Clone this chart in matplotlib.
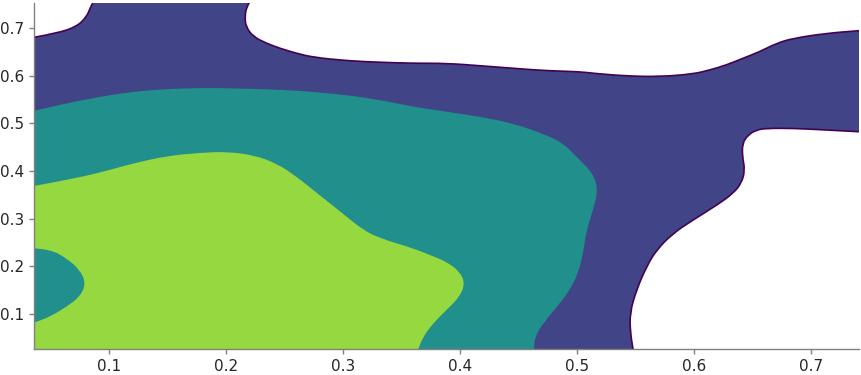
import matplotlib
matplotlib.use("Agg")
import matplotlib.pyplot as plt
from matplotlib.path import Path
from matplotlib.patches import PathPatch

# ── Contour boundaries (data coordinates) ────────────────────────────────────
# outer level: top-left edge curve (left edge -> top)
outer_tl_x = [0.0359, 0.0553, 0.0724, 0.0809, 0.0838, 0.0861]
outer_tl_y = [0.6805, 0.6889, 0.7028, 0.7237, 0.7413, 0.7525]

# outer level: upper edge (top -> right edge)
outer_top_x = [0.2199, 0.2177, 0.2162, 0.2171, 0.2233, 0.2348, 0.2462, 0.2604,
               0.2746, 0.3032, 0.3316, 0.3601, 0.3886, 0.4171, 0.4456, 0.4741,
               0.5026, 0.5139, 0.5425, 0.5709, 0.5994, 0.6137, 0.6279, 0.6421,
               0.6564, 0.6707, 0.6849, 0.7134, 0.7413]
outer_top_y = [0.7525, 0.7447, 0.7237, 0.7028, 0.6818, 0.6679, 0.6574, 0.6469,
               0.6386, 0.6314, 0.6281, 0.6260, 0.6260, 0.6209, 0.6155, 0.6104,
               0.6084, 0.6050, 0.5993, 0.5979, 0.6035, 0.6119, 0.6224, 0.6365,
               0.6503, 0.6679, 0.6784, 0.6889, 0.6944]

# outer level: lower-right edge (right edge -> bottom)
outer_br_x = [0.7413, 0.7134, 0.6849, 0.6621, 0.6536, 0.6464, 0.6416, 0.6416,
              0.6438, 0.6408, 0.6336, 0.6222, 0.5994, 0.5823, 0.5681, 0.5596,
              0.5510, 0.5453, 0.5459, 0.5481]
outer_br_y = [0.4825, 0.4861, 0.4896, 0.4896, 0.4861, 0.4756, 0.4582, 0.4300,
              0.4021, 0.3742, 0.3533, 0.3323, 0.2973, 0.2694, 0.2343, 0.1993,
              0.1504, 0.1015, 0.0596, 0.0260]

# middle level: edge from left edge -> bottom
mid_x = [0.0359, 0.0638, 0.0923, 0.1208, 0.1493, 0.1778, 0.2062, 0.2348,
         0.2632, 0.3032, 0.3316, 0.3601, 0.3886, 0.4171, 0.4456, 0.4741,
         0.4883, 0.4997, 0.5139, 0.5182, 0.5139, 0.5083, 0.5054, 0.5011,
         0.4940, 0.4855, 0.4712, 0.4641, 0.4635]
mid_y = [0.5265, 0.5421, 0.5559, 0.5664, 0.5721, 0.5742, 0.5735, 0.5714,
         0.5685, 0.5595, 0.5490, 0.5349, 0.5244, 0.5139, 0.5001, 0.4756,
         0.4582, 0.4300, 0.3952, 0.3602, 0.3182, 0.2763, 0.2274, 0.1854,
         0.1504, 0.1225, 0.0806, 0.0524, 0.0260]

# inner level: edge from left edge -> bottom
inner_x = [0.0359, 0.0638, 0.0923, 0.1208, 0.1493, 0.1778, 0.2006, 0.2233,
           0.2433, 0.2604, 0.2746, 0.2889, 0.3032, 0.3174, 0.3316, 0.3601,
           0.3744, 0.3886, 0.4000, 0.4043, 0.4000, 0.3886, 0.3772, 0.3686,
           0.3644]
inner_y = [0.3686, 0.3812, 0.3965, 0.4162, 0.4315, 0.4384, 0.4405, 0.4336,
           0.4162, 0.3881, 0.3602, 0.3323, 0.3042, 0.2763, 0.2589, 0.2379,
           0.2238, 0.2098, 0.1888, 0.1645, 0.1364, 0.1085, 0.0806, 0.0524,
           0.0260]

# lower-density pocket inside the inner level (left edge)
pocket_x = [0.0359, 0.0496, 0.0638, 0.0752, 0.0803, 0.0752, 0.0638, 0.0496, 0.0359]
pocket_y = [0.2379, 0.2358, 0.2169, 0.1924, 0.1645, 0.1364, 0.1154, 0.0944, 0.0818]

x_ticks = [0.1, 0.2, 0.3, 0.4, 0.5, 0.6, 0.7]
y_ticks = [0.1, 0.2, 0.3, 0.4, 0.5, 0.6, 0.7]

XMIN, XMAX = 0.0359, 0.7413
YMIN, YMAX = 0.0260, 0.7525

COLORS = ["#414487", "#21908d", "#95d840"]
LINE_COLOR = "#440154"


def curve(xs, ys, start=True):
    """Smooth open curve through the read points (quadratic Bezier path pieces)."""
    pts = list(zip(xs, ys))
    verts = [pts[0]]
    codes = [Path.MOVETO if start else Path.LINETO]
    for i in range(1, len(pts) - 1):
        mid = ((pts[i][0] + pts[i + 1][0]) / 2, (pts[i][1] + pts[i + 1][1]) / 2)
        verts += [pts[i], mid]
        codes += [Path.CURVE3, Path.CURVE3]
    verts.append(pts[-1])
    codes.append(Path.LINETO)
    return verts, codes


def region(*pieces, corner=None):
    verts, codes = [], []
    for i, (xs, ys) in enumerate(pieces):
        v, c = curve(xs, ys, start=(i == 0))
        verts += v
        codes += c
    if corner is not None:
        verts.append(corner)
        codes.append(Path.LINETO)
    verts.append(verts[0])
    codes.append(Path.CLOSEPOLY)
    return Path(verts, codes)


fig = plt.figure(figsize=(8.62, 3.75), dpi=100)
ax = fig.add_axes([34 / 862, 1 - 349.3 / 375, (859 - 34) / 862, (349.3 - 3) / 375])

# filled levels, low to high
outer = region((outer_tl_x, outer_tl_y), (outer_top_x, outer_top_y),
               (outer_br_x, outer_br_y), corner=(XMIN, YMIN))
ax.add_patch(PathPatch(outer, facecolor=COLORS[0], lw=0))
ax.add_patch(PathPatch(region((mid_x, mid_y), corner=(XMIN, YMIN)), facecolor=COLORS[1], lw=0))
ax.add_patch(PathPatch(region((inner_x, inner_y), corner=(XMIN, YMIN)), facecolor=COLORS[2], lw=0))
ax.add_patch(PathPatch(region((pocket_x, pocket_y)), facecolor=COLORS[1], lw=0))

# outline of lowest level
for xs, ys in [(outer_tl_x, outer_tl_y), (outer_top_x, outer_top_y), (outer_br_x, outer_br_y)]:
    v, c = curve(xs, ys)
    ax.add_patch(PathPatch(Path(v, c), fill=False, edgecolor=LINE_COLOR, lw=1.2))

ax.set_xlim(XMIN, XMAX)
ax.set_ylim(YMIN, YMAX)
ax.set_xticks(x_ticks)
ax.set_yticks(y_ticks)
ax.set_xticklabels([f"{v:.1f}" for v in x_ticks])
ax.set_yticklabels([f"{v:.1f}" for v in y_ticks])

for side in ["top", "right"]:
    ax.spines[side].set_visible(False)
for side in ["left", "bottom"]:
    ax.spines[side].set_color("#808080")
    ax.spines[side].set_linewidth(1.0)
ax.tick_params(colors="#808080", length=3.5, width=1, labelsize=11, labelcolor="#262626")

fig.savefig("out.png", dpi=100)
